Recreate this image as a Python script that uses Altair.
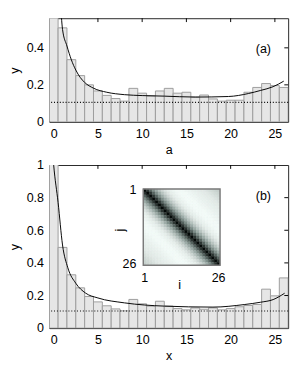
import altair as alt
import pandas as pd

positions = list(range(27))
hist_a = [0.60, 0.508, 0.336, 0.25, 0.20, 0.167, 0.143, 0.126, 0.112, 0.181,
          0.155, 0.14, 0.167, 0.181, 0.155, 0.160, 0.134, 0.145, 0.124, 0.112,
          0.117, 0.117, 0.160, 0.186, 0.207, 0.196, 0.186]
hist_x = [1.10, 0.495, 0.327, 0.247, 0.194, 0.161, 0.137, 0.118, 0.106, 0.176,
          0.149, 0.135, 0.165, 0.135, 0.12, 0.112, 0.124, 0.116, 0.124, 0.112,
          0.12, 0.131, 0.139, 0.145, 0.239, 0.198, 0.308]

curve_a_x = [0.75, 1, 1.5, 2, 2.5, 3, 3.5, 4.5, 6, 8, 10, 12.5, 16, 19.75, 22, 23.4, 24.8, 26]
curve_a_y = [0.66, 0.50, 0.41, 0.335, 0.28, 0.24, 0.213, 0.182, 0.16, 0.147, 0.142,
             0.139, 0.134, 0.137, 0.153, 0.17, 0.19, 0.22]
curve_b_x = [-0.15, 0, 0.5, 1, 1.6, 2.5, 3.6, 5, 8, 12.5, 18, 21.6, 23.4, 24.8, 26.1]
curve_b_y = [1.1, 1.0, 0.77, 0.51, 0.37, 0.275, 0.215, 0.185, 0.155, 0.135, 0.129,
             0.145, 0.159, 0.175, 0.214]

uniform_level = [0.105]

x_ticks = [0, 5, 10, 15, 20, 25]
y_ticks_a = [0, 0.2, 0.4]
y_ticks_b = [0, 0.2, 0.4, 0.6, 0.8, 1]
right_ticks_a = [0.2, 0.4]
right_ticks_b = [0.2, 0.4, 0.6, 0.8]
top_ticks = [5, 10, 15, 20, 25]

# inset correlation by offset |i - j|
corr_by_offset = [1.0, 0.82, 0.62, 0.45, 0.33, 0.24, 0.17, 0.12, 0.08, 0.06,
                  0.04, 0.03, 0.03, 0.03, 0.04, 0.05, 0.06, 0.07, 0.08, 0.09,
                  0.10, 0.12, 0.14, 0.16, 0.18, 0.20]
inset_index = list(range(1, 27))
inset_tick_labels = ["1", "26"]

FONT = "Liberation Sans"
XMIN, XMAX = -0.5, 26.5


def panel(hist, cx, cy, ymax, yticks, rticks, xtitle, height, tag, tag_x, tag_y):
    xs = alt.Scale(domain=[XMIN, XMAX], nice=False, zero=False)
    ys = alt.Scale(domain=[0, ymax], nice=False, zero=False)
    bars = alt.Chart(pd.DataFrame({"k": positions, "h": hist})).transform_calculate(
        k0="datum.k - 0.5", k1="datum.k + 0.5", z="0"
    ).mark_bar(fill="#e6e6e6", stroke="#9c9c9c", strokeWidth=1, clip=True).encode(
        x=alt.X("k0:Q", scale=xs, axis=alt.Axis(
            orient="bottom", values=x_ticks, title=xtitle, ticks=False, domain=False,
            grid=False, labelPadding=6, titlePadding=4, format="d")),
        x2="k1:Q",
        y=alt.Y("h:Q", scale=ys, axis=alt.Axis(
            orient="left", values=yticks, title="y", ticks=False, domain=False,
            grid=False, labelPadding=6, titlePadding=5, format="~g")),
        y2="z:Q",
    )
    rule = alt.Chart(pd.DataFrame({"u": uniform_level})).mark_rule(
        color="black", strokeDash=[1, 2], strokeWidth=1.2
    ).encode(y=alt.Y("u:Q", scale=ys, axis=None))
    line = alt.Chart(pd.DataFrame({"cx": cx, "cy": cy})).mark_line(
        color="black", strokeWidth=1, interpolate="monotone", clip=True
    ).encode(
        x=alt.X("cx:Q", scale=xs, axis=None),
        y=alt.Y("cy:Q", scale=ys, axis=None),
        order="cx:Q",
    )
    tticks = alt.Chart(pd.DataFrame({"t": top_ticks})).transform_calculate(
        ye=str(ymax)
    ).mark_rule(color="black", strokeWidth=1, y2Offset=4).encode(
        x=alt.X("t:Q", scale=xs, axis=None),
        y=alt.Y("ye:Q", scale=ys, axis=None), y2="ye:Q",
    )
    rticks_c = alt.Chart(pd.DataFrame({"r": rticks})).transform_calculate(
        xe=str(XMAX)
    ).mark_rule(color="black", strokeWidth=1, x2Offset=-4).encode(
        y=alt.Y("r:Q", scale=ys, axis=None),
        x=alt.X("xe:Q", scale=xs, axis=None), x2="xe:Q",
    )
    text = alt.Chart(pd.DataFrame({"tx": [tag_x], "ty": [tag_y], "t": [tag]})).mark_text(
        font=FONT, fontSize=13, color="black", baseline="middle", align="center"
    ).encode(
        x=alt.X("tx:Q", scale=xs, axis=None),
        y=alt.Y("ty:Q", scale=ys, axis=None),
        text="t:N",
    )
    return alt.layer(bars, rule, line, tticks, rticks_c, text).resolve_axis(
        x="independent", y="independent"
    ).properties(width=249, height=height)


top = panel(hist_a, curve_a_x, curve_a_y, 0.56, y_ticks_a, right_ticks_a, "a", 108,
            "(a)", 23.7, 0.394)
bottom_main = panel(hist_x, curve_b_x, curve_b_y, 1.0, y_ticks_b, right_ticks_b,
                    "x", 170, "(b)", 23.7, 0.81)

rows = []
for i in inset_index:
    for j in inset_index:
        rows.append({"i0": i - 0.5, "i1": i + 0.5, "j0": j - 0.5, "j1": j + 0.5,
                     "v": corr_by_offset[abs(i - j)]})
heat_df = pd.DataFrame(rows)

ix = alt.Scale(domain=[0.5, 26.5], range=[98, 178], nice=False, zero=False)
iy = alt.Scale(domain=[0.5, 26.5], range=[25, 104.5], nice=False, zero=False)
heat_colors = alt.Scale(
    domain=[0, 0.12, 0.35, 0.7, 1],
    range=["#ffffff", "#dce4e1", "#97a7a2", "#44524e", "#050a09"])

heat = alt.Chart(heat_df).mark_rect(strokeWidth=0.4).encode(
    x=alt.X("i0:Q", scale=ix, axis=None), x2="i1:Q",
    y=alt.Y("j0:Q", scale=iy, axis=None), y2="j1:Q",
    color=alt.Color("v:Q", scale=heat_colors, legend=None),
    stroke=alt.Stroke("v:Q", scale=heat_colors, legend=None),
)
frame = alt.Chart(pd.DataFrame({"a0": [0.5], "a1": [26.5]})).mark_rect(
    fillOpacity=0, stroke="#7a7a7a", strokeWidth=1.5
).encode(
    x=alt.X("a0:Q", scale=ix, axis=None), x2="a1:Q",
    y=alt.Y("a0:Q", scale=iy, axis=None), y2="a1:Q",
)

lab_bottom = pd.DataFrame({"li": [1, 26], "lj": [31, 31], "t": inset_tick_labels})
lab_left = pd.DataFrame({"li": [-1.8, -1.8], "lj": [1, 26], "t": inset_tick_labels})
ttl_i = pd.DataFrame({"li": [12.8], "lj": [33.4], "t": ["i"]})
ttl_j = pd.DataFrame({"li": [-7.2], "lj": [14.5], "t": ["j"]})


def inset_text(df, align="center", angle=0):
    return alt.Chart(df).mark_text(
        font=FONT, fontSize=13, color="black", baseline="middle", align=align, angle=angle
    ).encode(
        x=alt.X("li:Q", scale=ix, axis=None),
        y=alt.Y("lj:Q", scale=iy, axis=None),
        text="t:N",
    )


inset = alt.layer(heat, frame, inset_text(lab_bottom), inset_text(lab_left, align="right"),
                  inset_text(ttl_i), inset_text(ttl_j, angle=270)).resolve_axis(
    x="independent", y="independent")

bottom = alt.layer(bottom_main, inset).resolve_scale(
    x="independent", y="independent"
).resolve_axis(x="independent", y="independent")

chart = alt.vconcat(top, bottom, spacing=45, bounds="flush").properties(
    padding={"left": 0, "top": 2, "right": 2, "bottom": 0}
).configure_view(stroke="#222222", strokeWidth=1).configure_axis(
    labelFont=FONT, labelFontSize=13, labelColor="black",
    titleFont=FONT, titleFontSize=13, titleColor="black", titleFontWeight="normal",
)

chart.save("out.html", embed_options={"renderer": "svg", "actions": False})
